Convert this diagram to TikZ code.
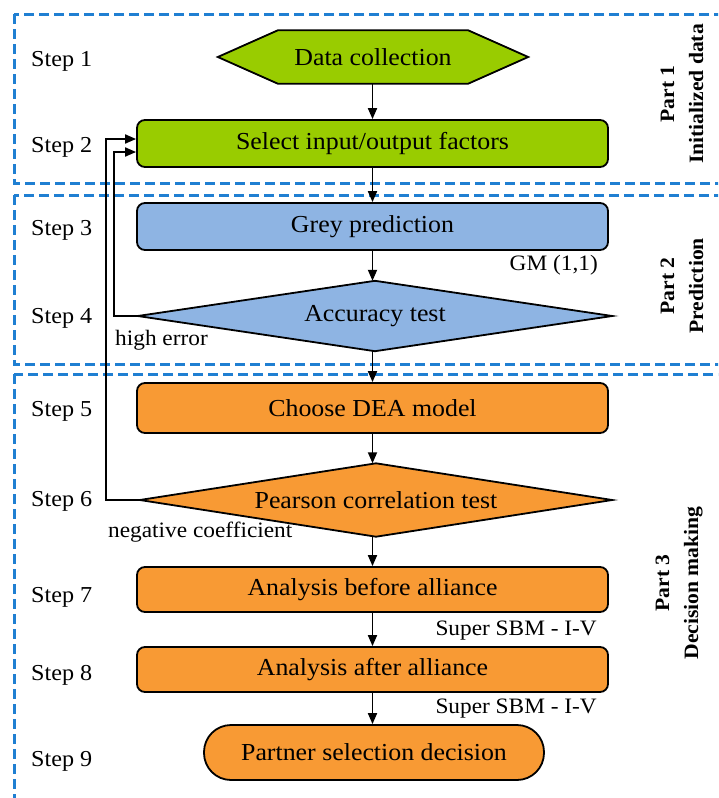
\documentclass[tikz,border=0pt]{standalone}
\usepackage{fontspec}
\setmainfont{Liberation Serif}[FakeStretch=1.06]
\usetikzlibrary{arrows.meta}
\definecolor{grn}{HTML}{99CC00}
\definecolor{blu}{HTML}{8EB4E3}
\definecolor{org}{HTML}{F89A34}
\definecolor{dashblue}{HTML}{1F7FD2}
\newcommand{\boxfont}{\fontsize{24.4}{28}\selectfont}
\newcommand{\stepfont}{\fontsize{22.8}{26}\selectfont}
\newcommand{\notefont}{\fontsize{22}{26}\selectfont}
\newcommand{\partfont}{\fontsize{20.4}{29}\selectfont\bfseries}
\begin{document}
\begin{tikzpicture}[x=1pt,y=-1pt,
  procbox/.style={draw=black, line width=1.8pt, rounded corners=8pt, minimum width=471pt, inner sep=0pt, font=\boxfont},
  shapeholder/.style={inner sep=0pt, font=\boxfont},
  arr/.style={-{Triangle[length=11pt,width=9pt]}, line width=1.8pt},
  frame/.style={draw=dashblue, line width=3pt, dash pattern=on 10pt off 5pt},
  steplabel/.style={anchor=base west, font=\stepfont, inner sep=0pt},
  note/.style={font=\notefont, inner sep=0pt},
  partlabel/.style={rotate=90, align=center, font=\partfont, inner sep=0pt}]
\useasboundingbox (0,0) rectangle (718,798);
\clip (0,0) rectangle (718,798);
\fill[white] (0,0) rectangle (718,798);

% frames
\draw[frame] (14,14) rectangle (740,183);
\draw[frame] (14,195) rectangle (740,364);
\draw[frame] (14,374) rectangle (740,830);

% step labels
\node[steplabel] (s1) at (31,66) {Step 1};
\node[steplabel] (s2) at (31,152) {Step 2};
\node[steplabel] (s3) at (31,235) {Step 3};
\node[steplabel] (s4) at (31,323) {Step 4};
\node[steplabel] (s5) at (31,416) {Step 5};
\node[steplabel] (s6) at (31,506) {Step 6};
\node[steplabel] (s7) at (31,602) {Step 7};
\node[steplabel] (s8) at (31,680) {Step 8};
\node[steplabel] (s9) at (31,766) {Step 9};

% shapes
\node[shapeholder, minimum width=310pt, minimum height=53pt] (dc) at (373,57) {};
\filldraw[fill=grn, draw=black, line width=1.8pt]
  (dc.west) -- ([xshift=60pt]dc.north west) -- ([xshift=-60pt]dc.north east) -- (dc.east)
  -- ([xshift=-60pt]dc.south east) -- ([xshift=60pt]dc.south west) -- cycle;
\node[font=\boxfont] at (dc) {Data collection};

\node[procbox, fill=grn, minimum height=47pt] (sel) at (372.5,143.5) {Select input/output factors};
\node[procbox, fill=blu, minimum height=47pt] (grey) at (372.5,226.5) {Grey prediction};

\node[shapeholder, minimum width=474pt, minimum height=70pt] (acc) at (375,316) {};
\filldraw[fill=blu, draw=black, line width=1.8pt] (acc.west) -- (acc.north) -- (acc.east) -- (acc.south) -- cycle;
\node[font=\boxfont] at (acc) {Accuracy test};

\node[procbox, fill=org, minimum height=50pt] (dea) at (372.5,408) {Choose DEA model};

\node[shapeholder, minimum width=472pt, minimum height=73pt] (pear) at (376,500) {};
\filldraw[fill=org, draw=black, line width=1.8pt] (pear.west) -- (pear.north) -- (pear.east) -- (pear.south) -- cycle;
\node[font=\boxfont] at (pear) {Pearson correlation test};

\node[procbox, fill=org, minimum height=45pt] (ab) at (372.5,589.5) {Analysis before alliance};
\node[procbox, fill=org, minimum height=45pt] (aa) at (372.5,669.5) {Analysis after alliance};
\node[procbox, fill=org, minimum width=340pt, minimum height=55pt, rounded corners=27pt] (ps) at (374,752.5) {Partner selection decision};

% notes
\node[note, anchor=base east] (gm) at (598,270) {GM (1,1)};
\node[note, anchor=base west] (he) at (115,345) {high error};
\node[note, anchor=base west] (nc) at (108,537) {negative coefficient};
\node[note, anchor=base east] (sb1) at (597,635) {Super SBM - I-V};
\node[note, anchor=base east] (sb2) at (597,713) {Super SBM - I-V};

% part labels
\node[partlabel] (p1) at (682,94) {Part 1\\Initialized data};
\node[partlabel] (p2) at (682,286) {Part 2\\Prediction};
\node[partlabel] (p3) at (679,583) {Part 3\\Decision making};

% connectors
\draw[arr] (dc.south -| sel.north) -- (sel.north);
\draw[arr] (sel) -- (grey.north) ;
\draw[arr] (grey.south) -- (grey.south |- acc.north);
\draw[arr] (grey.south |- acc.south) -- (dea.north);
\draw[arr] (dea.south) -- (dea.south |- pear.north);
\draw[arr] (dea.south |- pear.south) -- (ab.north);
\draw[arr] (ab.south) -- (aa.north);
\draw[arr] (aa.south) -- (aa.south |- ps.north);
\draw[arr] (acc.west) -- ++(-24,0) |- ([yshift=-8.5pt]sel.west);
\draw[arr] (pear.west) -- ++(-34,0) |- ([yshift=4.5pt]sel.west);
\end{tikzpicture}
\end{document}
